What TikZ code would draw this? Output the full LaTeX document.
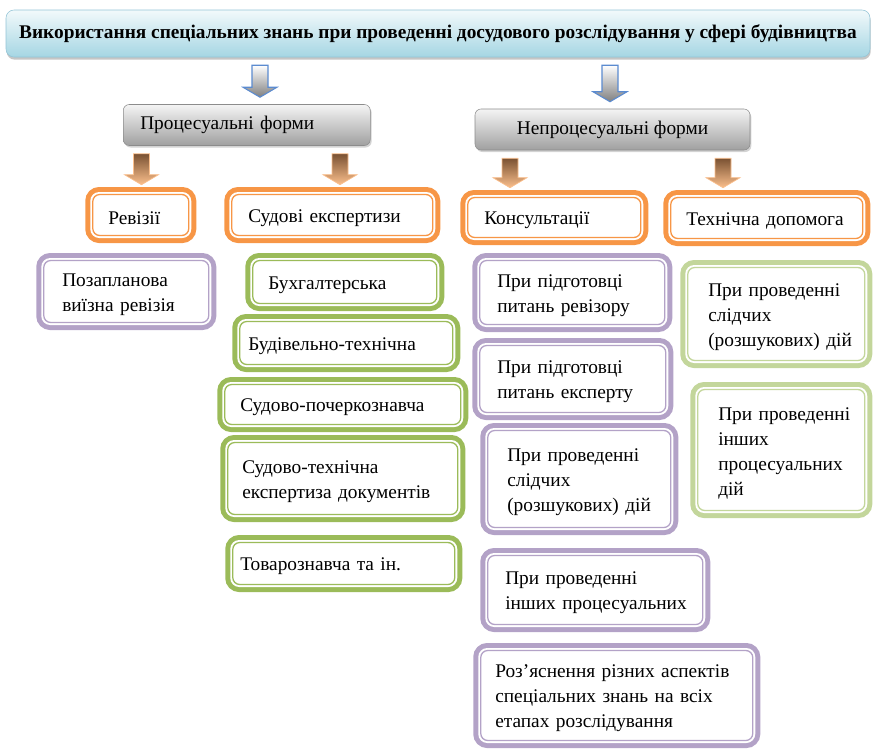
\documentclass[tikz,border=0pt]{standalone}
\usepackage[rgb]{xcolor}
\usepackage{fontspec}
\setmainfont{Liberation Serif}
\usetikzlibrary{shadows}

\newdimen\px \px=0.75pt

\definecolor{ringorange}{HTML}{F79646}
\definecolor{ringlilac}{HTML}{B3A2C7}
\definecolor{ringgreen}{HTML}{9BBB59}
\definecolor{ringpale}{HTML}{C3D69B}
\definecolor{headtop}{HTML}{F2F9FB}
\definecolor{headbot}{HTML}{A5D6E3}
\definecolor{headline}{HTML}{93C4D6}
\definecolor{formtop}{HTML}{F4F4F4}
\definecolor{formbot}{HTML}{A0A0A0}
\definecolor{bluetip}{HTML}{5B8BD0}
\definecolor{browntop}{HTML}{7A5233}
\definecolor{brownbot}{HTML}{FBBF8C}

% block arrow: style, from, to, x
\newcommand\blockarrow[4]{%
	\path (#4,0) coordinate (ax);
	\path (#2.south -| ax) coordinate (ta) (#3.north -| ax) coordinate (tb);
	\path[#1] ([shift={(-8,8)}]ta) -- ([shift={(8,8)}]ta)
		-- ([shift={(8,-17)}]tb) -- ([shift={(17,-17)}]tb) -- ([shift={(0,-7)}]tb)
		-- ([shift={(-17,-17)}]tb) -- ([shift={(-8,-17)}]tb) -- cycle;
}

\tikzset{
	txt/.style={font=\fontsize{14.5}{18.7}\selectfont},
	ring/.style={txt, rounded corners=9\px, fill=white, anchor=west, align=left,
		execute at begin node={\rule{0pt}{19\px}},
		preaction={draw=#1, line width=10\px},
		path picture={\draw[#1, line width=1.3\px, rounded corners=7\px]
			([shift={(2.5\px,2.5\px)}]path picture bounding box.south west) rectangle
			([shift={(-2.5\px,-2.5\px)}]path picture bounding box.north east);}},
	form/.style={txt, rounded corners=6\px, draw=black!45, top color=formtop,
		bottom color=formbot, minimum height=41\px,
		drop shadow={shadow xshift=1pt, shadow yshift=-1.5pt, opacity=0.35}},
	bluearrow/.style={top color=white, bottom color=black!50, draw=bluetip, line width=0.8pt},
	brownarrow/.style={top color=browntop, bottom color=brownbot, draw=brownbot, line width=0.5pt},
}

\begin{document}
\begin{tikzpicture}[x=\px, y=-\px]

	\useasboundingbox (0,0) rectangle (874,751);

	% header
	\node[rounded corners=8\px, draw=headline, top color=headtop, bottom color=headbot,
		minimum width=864\px, minimum height=47\px,
		drop shadow={shadow xshift=0.5pt, shadow yshift=-2pt, opacity=0.45},
		font=\fontsize{14.5}{17}\selectfont\bfseries] (top) at (438,33.5)
		{Використання спеціальних знань при проведенні досудового розслідування у сфері будівництва};

	% forms
	\node[form, anchor=west, text width=213\px, inner xsep=17\px, align=left] (proc) at (123,125)
		{Процесуальні~форми};
	\node[form, minimum width=275\px] (neproc) at (612.5,129.5) {Непроцесуальні форми};

	% orange
	\node[ring=ringorange, minimum height=46\px, inner xsep=18\px, text width=65\px] (rev) at (90,215) {Ревізії};
	\node[ring=ringorange, minimum height=46\px, inner xsep=19\px, text width=168\px] (sud) at (229,215) {Судові~експертизи};
	\node[ring=ringorange, minimum height=45\px, inner xsep=19\px, text width=140\px] (kons) at (465,217.5) {Консультації};
	\node[ring=ringorange, minimum height=46\px, inner xsep=18\px, text width=161\px] (tech) at (668,218) {Технічна~допомога};

	% revision
	\node[ring=ringlilac, minimum height=67\px, inner xsep=21\px, text width=128\px] (pozap) at (41,291.5)
		{Позапланова\\виїзна~ревізія};

	% expertises
	\node[ring=ringgreen, minimum height=48\px, inner xsep=18\px, text width=153\px] (buh) at (250,282) {Бухгалтерська};
	\node[ring=ringgreen, minimum height=48\px, inner xsep=11\px, text width=196\px] (bud) at (237,343) {Будівельно-технічна};
	\node[ring=ringgreen, minimum height=45\px, inner xsep=18\px, text width=205\px] (poch) at (222,404.5) {Судово-почеркознавча};
	\node[ring=ringgreen, minimum height=77\px, inner xsep=17\px, text width=201\px] (stex) at (225,478.5)
		{Судово-технічна\\експертиза~документів};
	\node[ring=ringgreen, minimum height=47\px, inner xsep=10\px, text width=207\px] (tov) at (230,563.5) {Товарознавча~та~ін.};

	% consultations
	\node[ring=ringlilac, minimum height=69\px, inner xsep=20\px, text width=150\px] (revq) at (477,292.5)
		{При~підготовці\\питань~ревізору};
	\node[ring=ringlilac, minimum height=72\px, inner xsep=20\px, text width=151\px] (ekspq) at (477,379)
		{При~підготовці\\питань~експерту};
	\node[ring=ringlilac, minimum height=102\px, inner xsep=22\px, text width=144\px] (slid) at (485,479)
		{При~проведенні\\слідчих\\(розшукових)~дій};
	\node[ring=ringlilac, minimum height=74\px, inner xsep=20\px, text width=180\px] (inshi) at (485,590)
		{При~проведенні\\інших~процесуальних};
	\node[ring=ringlilac, minimum height=95\px, inner xsep=17\px, text width=243\px] (rozyas) at (478,695.5)
		{Роз’яснення~різних~аспектів\\спеціальних~знань~на~всіх\\етапах~розслідування};

	% technical help
	\node[ring=ringpale, minimum height=98\px, inner xsep=23\px, text width=136\px] (gslid) at (685,314)
		{При~проведенні\\слідчих\\(розшукових)~дій};
	\node[ring=ringpale, minimum height=126\px, inner xsep=23\px, text width=126\px] (ginsh) at (695,450)
		{При~проведенні\\інших\\процесуальних\\дій};

	% arrows
	\foreach \a/\b/\x in {top/proc/260, top/neproc/610}
		\blockarrow{bluearrow}{\a}{\b}{\x};
	\foreach \a/\b/\x in {proc/rev/141.5, proc/sud/340, neproc/kons/510, neproc/tech/723}
		\blockarrow{brownarrow}{\a}{\b}{\x};

\end{tikzpicture}
\end{document}
